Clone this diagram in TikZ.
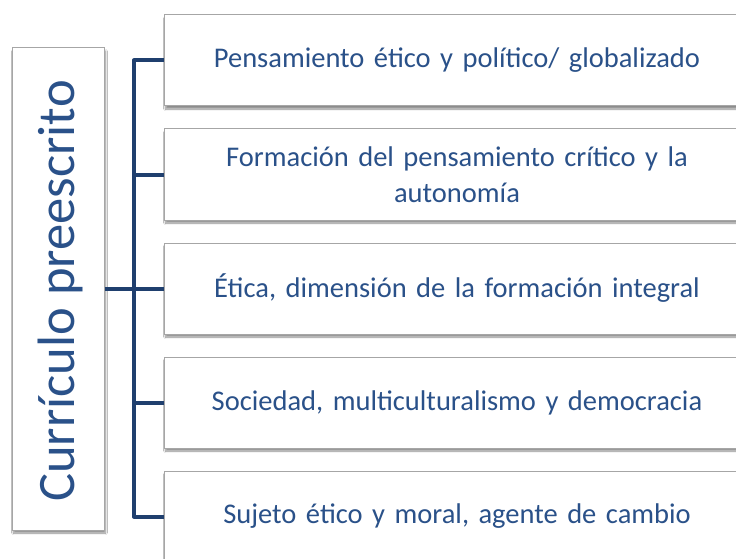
\documentclass[tikz,border=0pt]{standalone}
\usepackage{fontspec}
\setmainfont{Carlito}
\usetikzlibrary{shadows.blur}
\definecolor{txtblue}{HTML}{2A5189}
\definecolor{linkblue}{HTML}{1F3F6E}
\definecolor{boxgray}{HTML}{A6A6A6}
\tikzset{
  itembox/.style={draw=boxgray, line width=1pt, fill=white, minimum width=586pt, minimum height=91pt,
    text width=560pt, align=center, text=txtblue, font=\fontsize{28.5}{36}\selectfont, inner sep=0pt,
    blur shadow={shadow xshift=1.5pt, shadow yshift=-3pt, shadow blur steps=6, shadow opacity=45}},
  headbox/.style={draw=boxgray, line width=1pt, fill=white, minimum width=92pt, minimum height=482pt,
    inner sep=0pt, blur shadow={shadow xshift=1.5pt, shadow yshift=-3pt, shadow blur steps=6, shadow opacity=45}},
  link/.style={draw=linkblue, line width=4pt}
}
\begin{document}
\begin{tikzpicture}[x=1pt,y=-1pt]
\clip (0,0) rectangle (736,559);
\fill[white] (0,0) rectangle (736,559);
\node[headbox] (head) at (58,289) {};
\node[text=txtblue, font=\fontsize{52.6}{60}\selectfont, rotate=90, inner sep=0pt] (headtxt) at (60,291) {Currículo preescrito};
\node[itembox] (b1) at (457,60.5) {Pensamiento ético y político/ globalizado};
\node[itembox] (b2) at (457,174.5) {Formación del pensamiento crítico y la\\autonomía};
\node[itembox] (b3) at (457,288.5) {Ética, dimensión de la formación integral};
\node[itembox] (b4) at (457,402.5) {Sociedad, multiculturalismo y democracia};
\node[itembox] (b5) at (457,516.5) {Sujeto ético y moral, agente de cambio};
\coordinate (spine) at (134,0);
\draw[link, line join=round] (b1.west) -| (spine |- b5.west) -- (b5.west);
\draw[link] (spine |- b2.west) -- (b2.west);
\draw[link] (spine |- b3.west) -- (b3.west);
\draw[link] (spine |- b4.west) -- (b4.west);
\draw[link] (head.east) -- (spine |- head.east);
\end{tikzpicture}
\end{document}
